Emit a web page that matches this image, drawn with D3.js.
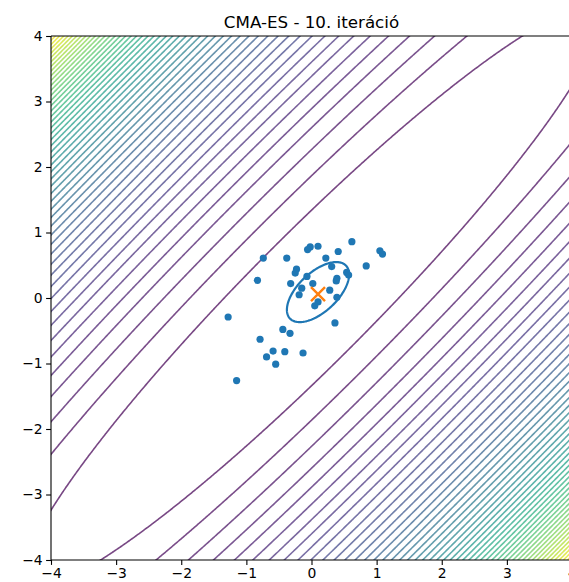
<!DOCTYPE html>
<html><head><meta charset="utf-8">
<script src="https://cdn.jsdelivr.net/npm/d3@7"></script>
<style>
body{margin:0;background:#fff}
svg{display:block}
text{font-family:"DejaVu Sans",sans-serif}
</style>
</head><body>
<svg id="chart" width="569" height="582"></svg>
<script>
// ---- data ----
const title = "CMA-ES - 10. iteráció";
const xTicks = [-4, -3, -2, -1, 0, 1, 2, 3, 4];
const yTicks = [-4, -3, -2, -1, 0, 1, 2, 3, 4];
// sampled population (10th iteration)
const popX = [0.62, -0.02, 0.10, -0.06, 0.41, 1.05, 1.09, -0.74, -0.38, 0.22,
              0.31, 0.84, -0.23, -0.25, 0.54, 0.57, -0.07, -0.83, 0.39, -0.32,
              0.02, 0.38, -0.15, 0.28, -0.19, 0.39, 0.10, 0.05, -1.28, 0.36,
              -0.44, -0.33, -0.79, -0.59, -0.41, -0.69, -0.13, -0.55, -1.15];
const popY = [0.86, 0.78, 0.79, 0.74, 0.71, 0.72, 0.67, 0.61, 0.61, 0.61,
              0.48, 0.49, 0.44, 0.38, 0.39, 0.35, 0.33, 0.27, 0.30, 0.22,
              0.22, 0.26, 0.15, 0.12, 0.05, 0.01, -0.06, -0.12, -0.29, -0.38,
              -0.48, -0.54, -0.63, -0.81, -0.82, -0.90, -0.84, -1.01, -1.26];
const meanPoint = [0.10, 0.06];
const ellipseCenter = [0.10, 0.09];
const ellipseAxes = [0.59, 0.30];
const ellipseAngleDeg = 43;
// objective along rotated axes u=(x-y)/√2, v=(x+y)/√2
const coefU2 = 1.0, coefU4 = 0.0123, coefV2 = 0.0244;
const levelStart = 0.93, levelStep = 0.89;

// ---- layout ----
const svg = d3.select("#chart");
const L = 51, R = 572, T = 36, B = 560;
const xs = d3.scaleLinear().domain([-4, 4]).range([L, R]);
const ys = d3.scaleLinear().domain([-4, 4]).range([B, T]);

svg.append("defs").append("clipPath").attr("id", "clip")
  .append("rect").attr("x", L).attr("y", T).attr("width", R - L).attr("height", B - T);

// ---- contour field ----
const f = (x, y) => {
  const u = (x - y) / Math.SQRT2, v = (x + y) / Math.SQRT2;
  return coefU2 * u * u + coefU4 * u * u * u * u + coefV2 * v * v;
};
const levelMax = f(4, -4);
const ext = 4.6, n = 460, step = 2 * ext / n;
const grid = new Float64Array(n * n);
for (let j = 0; j < n; j++) {
  const y = ext - (j + 0.5) * step;
  for (let i = 0; i < n; i++) {
    const x = -ext + (i + 0.5) * step;
    grid[j * n + i] = f(x, y);
  }
}
const levels = d3.range(levelStart, levelMax, levelStep);
const color = d3.scaleSequential(d3.interpolateViridis)
  .domain([levels[0], levels[levels.length - 1]]);
const contours = d3.contours().size([n, n]).thresholds(levels)(grid);
const proj = d3.geoTransform({
  point: function(cx, cy) {
    this.stream.point(xs(-ext + cx * step), ys(ext - cy * step));
  }
});
const path = d3.geoPath(proj);
const gC = svg.append("g").attr("clip-path", "url(#clip)");
gC.selectAll("path").data(contours).join("path")
  .attr("d", path)
  .attr("fill", "none")
  .attr("stroke", d => color(d.value))
  .attr("stroke-opacity", 0.72)
  .attr("stroke-width", 1.6);

// ---- population ----
const gP = svg.append("g").attr("clip-path", "url(#clip)");
gP.selectAll("circle").data(d3.range(popX.length)).join("circle")
  .attr("cx", i => xs(popX[i]))
  .attr("cy", i => ys(popY[i]))
  .attr("r", 3.6)
  .attr("fill", "#1f77b4");

// ---- covariance ellipse ----
const th = ellipseAngleDeg * Math.PI / 180;
const ts = d3.range(0, 2 * Math.PI, Math.PI / 90);
const ellPts = ts.map(t => {
  const a = ellipseAxes[0] * Math.cos(t), b = ellipseAxes[1] * Math.sin(t);
  return [ellipseCenter[0] + a * Math.cos(th) - b * Math.sin(th),
          ellipseCenter[1] + a * Math.sin(th) + b * Math.cos(th)];
});
gP.append("path")
  .attr("d", d3.line().x(d => xs(d[0])).y(d => ys(d[1])).curve(d3.curveLinearClosed)(ellPts))
  .attr("fill", "none").attr("stroke", "#1f77b4").attr("stroke-width", 2.2);

// ---- mean marker ----
const mx = xs(meanPoint[0]), my = ys(meanPoint[1]), ms = 7;
gP.append("path")
  .attr("d", `M${mx - ms},${my - ms}L${mx + ms},${my + ms}M${mx - ms},${my + ms}L${mx + ms},${my - ms}`)
  .attr("stroke", "#ff7f0e").attr("stroke-width", 2.4).attr("fill", "none");

// ---- axes ----
const fmt = d => (d < 0 ? "\u2212" + Math.abs(d) : String(d));
const ax = svg.append("g").attr("transform", `translate(0,${B})`)
  .call(d3.axisBottom(xs).tickValues(xTicks).tickFormat(fmt).tickSize(4.9).tickPadding(3.5));
const ay = svg.append("g").attr("transform", `translate(${L},0)`)
  .call(d3.axisLeft(ys).tickValues(yTicks).tickFormat(fmt).tickSize(4.9).tickPadding(3.5));
[ax, ay].forEach(g => {
  g.select(".domain").remove();
  g.selectAll(".tick line").attr("stroke", "#000").attr("stroke-width", 1.1);
  g.selectAll(".tick text").attr("fill", "#000").attr("font-size", "13.9px")
    .attr("font-family", "DejaVu Sans, sans-serif");
});
// spines
svg.append("path")
  .attr("d", `M${L},${T}V${B}H${R}M${L},${T}H${R}V${B}`)
  .attr("fill", "none").attr("stroke", "#000").attr("stroke-width", 1.1);

// ---- title ----
svg.append("text").attr("x", (L + R) / 2).attr("y", 27.5)
  .attr("text-anchor", "middle").attr("font-size", "16.7px").attr("fill", "#000")
  .text(title);
</script>
</body></html>
